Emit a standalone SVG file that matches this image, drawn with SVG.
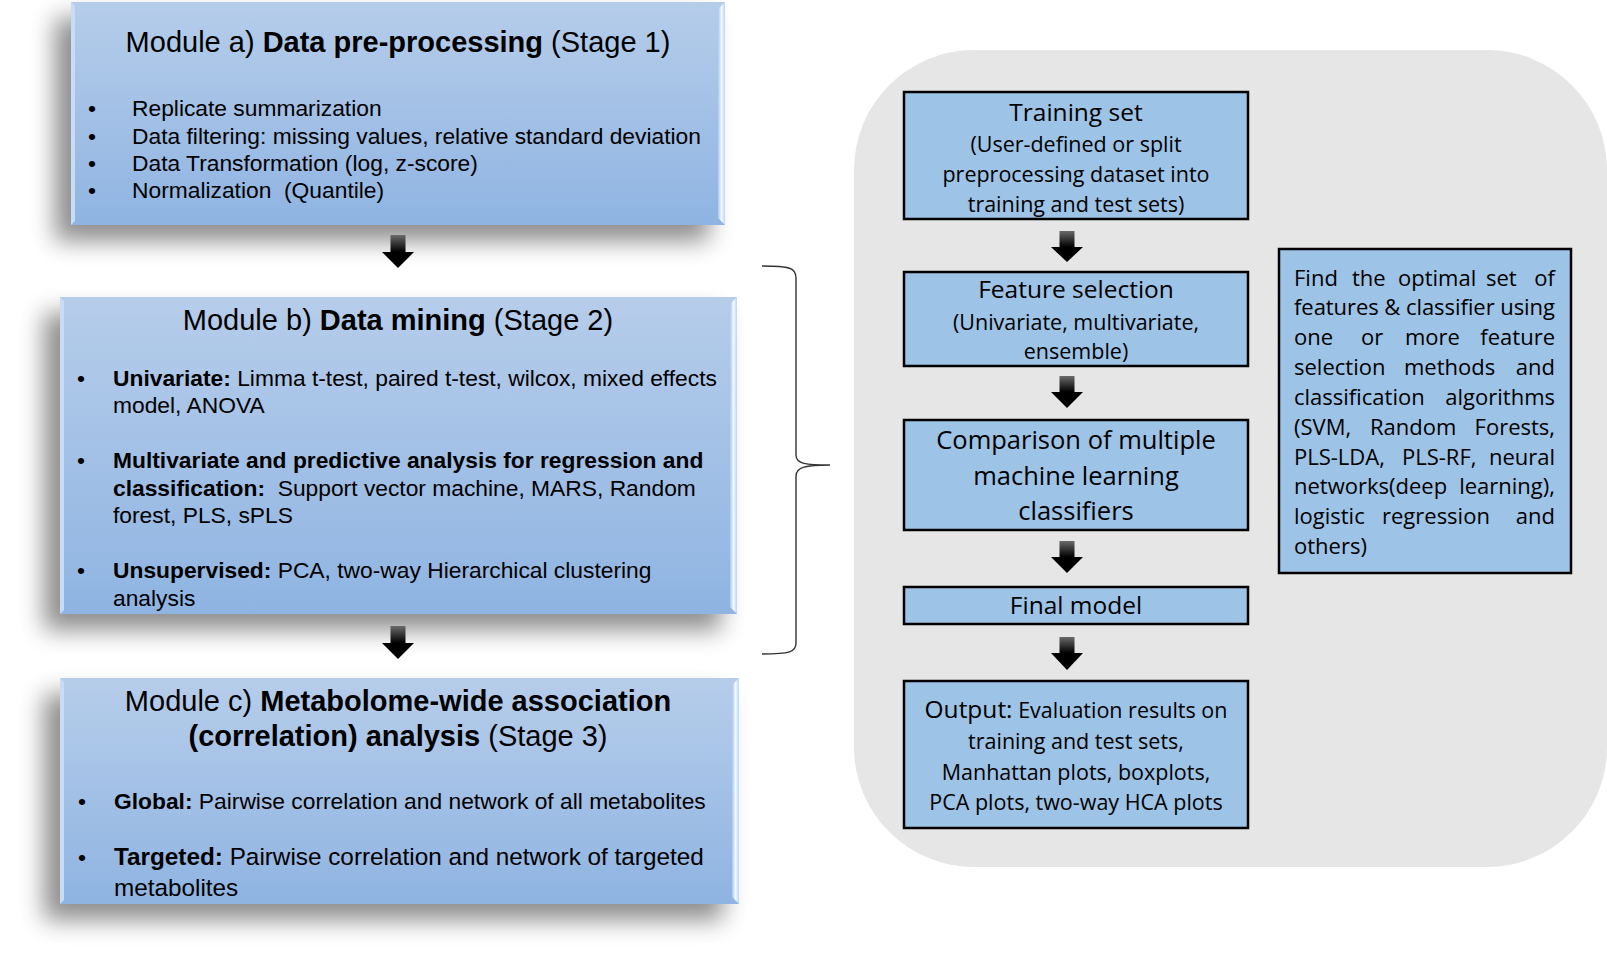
<svg xmlns="http://www.w3.org/2000/svg" width="1607" height="968" viewBox="0 0 1607 968">
<defs>
<linearGradient id="boxg" x1="0" y1="0" x2="0" y2="1">
<stop offset="0" stop-color="#b6cdea"/>
<stop offset="1" stop-color="#8fb4e2"/>
</linearGradient>
<linearGradient id="bevR" x1="0" y1="0" x2="1" y2="0">
<stop offset="0" stop-color="#a9c8ee"/>
<stop offset="0.5" stop-color="#f0f9ff"/>
<stop offset="1" stop-color="#bcd6f4"/>
</linearGradient>
<linearGradient id="shaft" x1="0" y1="0" x2="0" y2="1">
<stop offset="0" stop-color="#6a6a6a"/>
<stop offset="1" stop-color="#000"/>
</linearGradient>
<filter id="shadow" x="-10%" y="-15%" width="120%" height="140%">
<feGaussianBlur in="SourceAlpha" stdDeviation="12"/>
<feOffset dx="-16" dy="16"/>
<feComponentTransfer><feFuncA type="linear" slope="0.45"/></feComponentTransfer>
<feMerge><feMergeNode/><feMergeNode in="SourceGraphic"/></feMerge>
</filter>
</defs>
<style>
.lt{font-family:"Liberation Sans",Arial,sans-serif;fill:#000}
.tt{font-size:29px;text-anchor:middle}
.bl{font-size:22.8px}
.b{font-weight:bold}
.rt{font-family:"Open Sans","Noto Sans",sans-serif;fill:#000}
.rb{fill:#9dc3e6;stroke:#000;stroke-width:2.5}
.c{text-anchor:middle}
.e{text-anchor:end}
.h{font-size:24.5px}
.s{font-size:21.5px}
.m{font-size:25.5px}
.j{font-size:22px}
.arrow-shaft{fill:url(#shaft)}
.arrow-head{fill:#000}
</style>
<rect width="1607" height="968" fill="#fff"/>

<g id="panel">
<rect x="854" y="50" width="753" height="817" rx="120" ry="120" fill="#e6e6e6"/>
</g>

<g id="module-a">
<rect x="71" y="2" width="654" height="223" fill="url(#boxg)" filter="url(#shadow)"/>
<polygon points="71,2 75,6 75,221 71,225" fill="#c8dcf4"/>
<polygon points="718,9 725,2 725,225 718,218" fill="url(#bevR)"/>
<text class="lt tt" x="398" y="52">Module a) <tspan class="b">Data pre-processing</tspan> (Stage 1)</text>
<g class="lt bl">
<text x="88" y="116">•</text><text x="132" y="116">Replicate summarization</text>
<text x="88" y="143.5">•</text><text x="132" y="143.5">Data filtering: missing values, relative standard deviation</text>
<text x="88" y="170.5">•</text><text x="132" y="170.5">Data Transformation (log, z-score)</text>
<text x="88" y="197.5">•</text><text x="132" y="197.5">Normalization&#160; (Quantile)</text>
</g>
</g>

<g id="module-b">
<rect x="60" y="297" width="677" height="317" fill="url(#boxg)" filter="url(#shadow)"/>
<polygon points="60,297 64,301 64,610 60,614" fill="#c8dcf4"/>
<polygon points="730,304 737,297 737,614 730,607" fill="url(#bevR)"/>
<text class="lt tt" x="398" y="330">Module b) <tspan class="b">Data mining</tspan> (Stage 2)</text>
<g class="lt bl">
<text x="77" y="385.5">•</text><text x="113" y="385.5"><tspan class="b">Univariate:</tspan> Limma t-test, paired t-test, wilcox, mixed effects</text>
<text x="113" y="413">model, ANOVA</text>
<text x="77" y="468">•</text><text x="113" y="468" class="b">Multivariate and predictive analysis for regression and</text>
<text x="113" y="495.5"><tspan class="b">classification:</tspan><tspan>&#160; Support vector machine, MARS, Random</tspan></text>
<text x="113" y="522.5">forest, PLS, sPLS</text>
<text x="77" y="578">•</text><text x="113" y="578"><tspan class="b">Unsupervised:</tspan> PCA, two-way Hierarchical clustering</text>
<text x="113" y="605.5">analysis</text>
</g>
</g>

<g id="module-c">
<rect x="60" y="678" width="679" height="226" fill="url(#boxg)" filter="url(#shadow)"/>
<polygon points="60,678 64,682 64,900 60,904" fill="#c8dcf4"/>
<polygon points="732,685 739,678 739,904 732,897" fill="url(#bevR)"/>
<text class="lt tt" x="398" y="711">Module c) <tspan class="b">Metabolome-wide association</tspan></text>
<text class="lt tt" x="398" y="746"><tspan class="b">(correlation) analysis</tspan> (Stage 3)</text>
<g class="lt">
<text x="78" y="809" font-size="22.8">•</text><text x="114" y="809" font-size="22.8"><tspan class="b">Global:</tspan> Pairwise correlation and network of all metabolites</text>
<text x="78" y="865" font-size="22.8">•</text><text x="114" y="865" font-size="24.3"><tspan class="b">Targeted:</tspan> Pairwise correlation and network of targeted</text>
<text x="114" y="896" font-size="24.3">metabolites</text>
</g>
</g>

<g id="training-set">
<rect class="rb" x="904" y="92" width="344" height="127"/>
<text class="rt c h" x="1076" y="121">Training set</text>
<text class="rt c s" x="1076" y="152">(User-defined or split</text>
<text class="rt c s" x="1076" y="182">preprocessing dataset into</text>
<text class="rt c s" x="1076" y="212">training and test sets)</text>
</g>

<g id="feature-selection">
<rect class="rb" x="904" y="272" width="344" height="94"/>
<text class="rt c h" x="1076" y="298">Feature selection</text>
<text class="rt c s" x="1076" y="330">(Univariate, multivariate,</text>
<text class="rt c s" x="1076" y="359">ensemble)</text>
</g>

<g id="comparison">
<rect class="rb" x="904" y="420" width="344" height="110"/>
<text class="rt c m" x="1076" y="449">Comparison of multiple</text>
<text class="rt c m" x="1076" y="485">machine learning</text>
<text class="rt c m" x="1076" y="520">classifiers</text>
</g>

<g id="final-model">
<rect class="rb" x="904" y="587" width="344" height="37"/>
<text class="rt c h" x="1076" y="614">Final model</text>
</g>

<g id="output">
<rect class="rb" x="904" y="681" width="344" height="147"/>
<text class="rt c" x="1076" y="718"><tspan class="h">Output:</tspan><tspan class="s"> Evaluation results on</tspan></text>
<text class="rt c s" x="1076" y="749">training and test sets,</text>
<text class="rt c s" x="1076" y="780">Manhattan plots, boxplots,</text>
<text class="rt c s" x="1076" y="810">PCA plots, two-way HCA plots</text>
</g>

<g id="optimal-set-note">
<rect class="rb" x="1279" y="249" width="292" height="324"/>
<g class="rt j">
<text x="1294" y="286">Find</text><text x="1352" y="286">the</text><text x="1398" y="286">optimal</text><text x="1486" y="286">set</text><text class="e" x="1555" y="286">of</text>
<text x="1294" y="315" textLength="261" lengthAdjust="spacing">features &amp; classifier using</text>
<text x="1294" y="345">one</text><text x="1361" y="345">or</text><text x="1405" y="345">more</text><text class="e" x="1555" y="345">feature</text>
<text x="1294" y="375">selection</text><text x="1404" y="375">methods</text><text class="e" x="1555" y="375">and</text>
<text x="1294" y="405">classification</text><text class="e" x="1555" y="405">algorithms</text>
<text x="1294" y="435">(SVM,</text><text x="1370" y="435">Random</text><text class="e" x="1555" y="435">Forests,</text>
<text x="1294" y="465">PLS-LDA,</text><text x="1402" y="465">PLS-RF,</text><text class="e" x="1555" y="465">neural</text>
<text x="1294" y="494">networks(deep</text><text class="e" x="1555" y="494">learning),</text>
<text x="1294" y="524">logistic</text><text x="1382" y="524">regression</text><text class="e" x="1555" y="524">and</text>
<text x="1294" y="554">others)</text>
</g>
</g>

<g id="connectors">
<g id="arrow-a-b"><rect class="arrow-shaft" x="390.5" y="235" width="15" height="17"/><polygon class="arrow-head" points="382,252 414,252 398,268"/></g>
<g id="arrow-b-c"><rect class="arrow-shaft" x="390.5" y="626" width="15" height="17"/><polygon class="arrow-head" points="382,643 414,643 398,659"/></g>
<g id="arrow-1"><rect class="arrow-shaft" x="1059.5" y="231" width="15" height="16"/><polygon class="arrow-head" points="1051,247 1083,247 1067,262"/></g>
<g id="arrow-2"><rect class="arrow-shaft" x="1059.5" y="376" width="15" height="16"/><polygon class="arrow-head" points="1051,392 1083,392 1067,408"/></g>
<g id="arrow-3"><rect class="arrow-shaft" x="1059.5" y="541" width="15" height="16"/><polygon class="arrow-head" points="1051,557 1083,557 1067,573"/></g>
<g id="arrow-4"><rect class="arrow-shaft" x="1059.5" y="637" width="15" height="16"/><polygon class="arrow-head" points="1051,653 1083,653 1067,670"/></g>
<path id="brace" d="M762,266 C790,266 796,268 796,278 L796,455 C796,464 806,465 830,465 C806,465 796,467 796,476 L796,643 C796,652 790,654 762,654" fill="none" stroke="#333" stroke-width="1.4"/>
</g>
</svg>
